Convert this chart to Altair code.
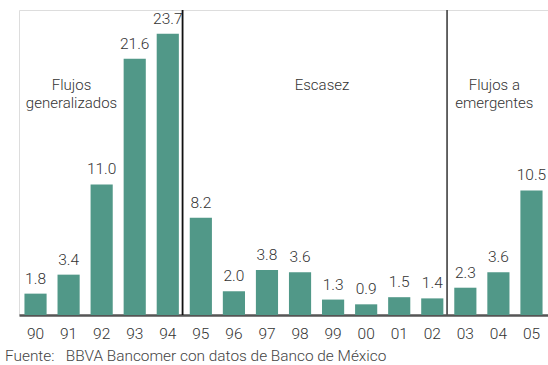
import altair as alt
import pandas as pd

# Annual flows (% , label values shown above bars)
years = ["90", "91", "92", "93", "94", "95", "96", "97", "98", "99",
         "00", "01", "02", "03", "04", "05"]
values = [1.8, 3.4, 11.0, 21.6, 23.7, 8.2, 2.0, 3.8, 3.6, 1.3,
          0.9, 1.5, 1.4, 2.3, 3.6, 10.5]

# Period separators: placed just before these years
sep_years = ["95", "03"]
sep_colors = ["#111111", "#555555"]

# Period labels, anchored on a year band (offset from the band start)
period_text = ["Flujos\ngeneralizados", "Escasez", "Flujos a\nemergentes"]
period_year = ["91", "99", "04"]
period_shift = [14, 0, 7]

FONT = "Roboto"
W = 300
BAR = "#519888"
TXT = "#333333"

df = pd.DataFrame({"year": years, "value": values,
                   "label": [f"{v:.1f}" for v in values]})
sep_df = pd.DataFrame({"year": sep_years, "color": sep_colors})
per_df = pd.DataFrame({"year": period_year, "text": period_text,
                       "shift": period_shift})

xscale = alt.Scale(domain=years, paddingInner=0.33, paddingOuter=0.165)
yscale = alt.Scale(domain=[0, 25.7], nice=False)

x = alt.X("year:N", scale=xscale, sort=years, title=None,
          axis=alt.Axis(labelAngle=0, labelFont=FONT, labelFontSize=15.5,
                        labelFontWeight=W, labelColor=TXT, labelPadding=11,
                        ticks=False, domainColor="#555555", domainWidth=2.5,
                        grid=False))
y = alt.Y("value:Q", scale=yscale, axis=None)

bars = alt.Chart(df).mark_bar(color=BAR).encode(x=x, y=y)

labels = alt.Chart(df).mark_text(
    font=FONT, fontSize=15.5, fontWeight=W, color=TXT, dy=-7, baseline="bottom"
).encode(x=alt.X("year:N", scale=xscale, sort=years), y=y, text="label:N")

seps = alt.Chart(sep_df).mark_rule(strokeWidth=1.8, xOffset=-7.2).encode(
    x=alt.X("year:N", scale=xscale, sort=years, bandPosition=0),
    y=alt.value(0),
    y2=alt.value(305),
    color=alt.Color("color:N", scale=None),
)

periods = alt.Chart(per_df).mark_text(
    font=FONT, fontSize=15, fontWeight=W, color=TXT, lineBreak="\n",
    lineHeight=18, align="center", baseline="middle"
).encode(
    x=alt.X("year:N", scale=xscale, sort=years),
    xOffset=alt.XOffset("shift:Q", scale=None),
    y=alt.value(75),
    text="text:N",
)

source_text = ["Fuente:\u00a0\u00a0\u00a0BBVA Bancomer con datos de Banco de México"]
source = alt.Chart(pd.DataFrame({"t": source_text})).mark_text(
    font=FONT, fontSize=15.4, fontWeight=W, color="#444444", align="left",
    baseline="middle"
).encode(x=alt.value(-14), y=alt.value(346), text="t:N")

chart = alt.layer(bars, labels, seps, periods, source).properties(
    width=529, height=305,
    padding={"left": 19, "top": 10, "right": 0, "bottom": 50},
    autosize=alt.AutoSizeParams(type="none"),
).configure_view(stroke=None).configure(background="white")

chart.save("out.html", embed_options={"renderer": "svg", "actions": False})
